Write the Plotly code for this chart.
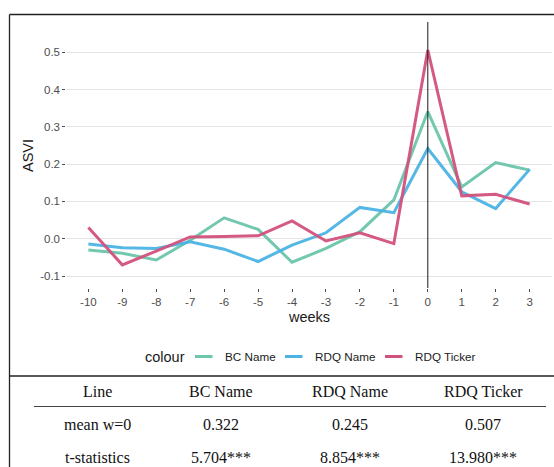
import plotly.graph_objects as go

W, H = 554, 467

# ---------------- data ----------------
weeks = list(range(-10, 4))
bc_name = [-0.030, -0.039, -0.057, -0.004, 0.056, 0.025, -0.063, -0.026, 0.019, 0.104, 0.341, 0.139, 0.204, 0.184]
rdq_name = [-0.014, -0.024, -0.026, -0.008, -0.028, -0.061, -0.017, 0.016, 0.084, 0.070, 0.242, 0.126, 0.081, 0.186]
rdq_ticker = [0.030, -0.070, -0.033, 0.005, 0.006, 0.008, 0.048, -0.006, 0.016, -0.013, 0.506, 0.115, 0.119, 0.093]

series_names = ["BC Name", "RDQ Name", "RDQ Ticker"]
series_colors = ["#6CC7AC", "#4CB4E4", "#D2527E"]
y_ticks = [-0.1, 0.0, 0.1, 0.2, 0.3, 0.4, 0.5]
x_ticks = weeks
event_week = 0

table_header = ["Line", "BC Name", "RDQ Name", "RDQ Ticker"]
table_rows = [
    ["mean w=0", "0.322", "0.245", "0.507"],
    ["t-statistics", "5.704***", "8.854***", "13.980***"],
]

# ---------------- helpers (pixel -> paper) ----------------
def px(x):
    return x / W

def py(y):
    return 1 - y / H

panel_l, panel_r, panel_t, panel_b = 66.3, 551.7, 22, 288

fig = go.Figure()
for name, vals, col in zip(series_names, [bc_name, rdq_name, rdq_ticker], series_colors):
    fig.add_trace(go.Scatter(x=weeks, y=vals, mode="lines", name=name,
                             line=dict(color=col, width=3), opacity=0.95,
                             showlegend=False))

sans = "Liberation Sans, Arial, sans-serif"
serif = "Liberation Serif, Times New Roman, serif"

shapes = []
annots = []

# vertical event line
shapes.append(dict(type="line", xref="x", yref="paper", x0=event_week, x1=event_week,
                   y0=py(panel_b), y1=py(panel_t), line=dict(color="#1a1a1a", width=1),
                   layer="above"))

# axis titles
annots.append(dict(x=px(28), y=py((panel_t + panel_b) / 2), xref="paper", yref="paper",
                   text="ASVI", textangle=-90, showarrow=False,
                   font=dict(family=sans, size=14.5, color="#1a1a1a"),
                   xanchor="center", yanchor="middle"))
annots.append(dict(x=px((panel_l + panel_r) / 2), y=py(316.5), xref="paper", yref="paper",
                   text="weeks", showarrow=False,
                   font=dict(family=sans, size=14.5, color="#1a1a1a"),
                   xanchor="center", yanchor="middle"))

# legend (drawn manually, ggplot style)
leg_y = 356.5
annots.append(dict(x=px(142.5), y=py(leg_y), xref="paper", yref="paper", text="colour",
                   showarrow=False, font=dict(family=sans, size=14.5, color="#1a1a1a"),
                   xanchor="left", yanchor="middle"))
key_starts = [195, 285, 385]
for ks, name, col in zip(key_starts, series_names, series_colors):
    shapes.append(dict(type="line", xref="paper", yref="paper",
                       x0=px(ks), x1=px(ks + 17.5), y0=py(leg_y), y1=py(leg_y),
                       line=dict(color=col, width=3)))
    annots.append(dict(x=px(ks + 27.5), y=py(leg_y), xref="paper", yref="paper", text=name,
                       showarrow=False, font=dict(family=sans, size=11.7, color="#1a1a1a"),
                       xanchor="left", yanchor="middle"))

# outer frame lines
frame = "#222222"
shapes.append(dict(type="line", xref="paper", yref="paper", x0=px(9.5), x1=px(554),
                   y0=py(14.5), y1=py(14.5), line=dict(color=frame, width=1.3)))
shapes.append(dict(type="line", xref="paper", yref="paper", x0=px(9.5), x1=px(9.5),
                   y0=py(14.5), y1=py(467), line=dict(color=frame, width=1.3)))
shapes.append(dict(type="line", xref="paper", yref="paper", x0=px(9.5), x1=px(554),
                   y0=py(376), y1=py(376), line=dict(color=frame, width=1.3)))
# table header underline
shapes.append(dict(type="line", xref="paper", yref="paper", x0=px(34), x1=px(546),
                   y0=py(406.5), y1=py(406.5), line=dict(color="#444444", width=1.2)))

# table text
col_x = [97.5, 221, 350, 483]
row_y = [391.5, 424.5, 457.5]
for cx, txt in zip(col_x, table_header):
    annots.append(dict(x=px(cx), y=py(row_y[0]), xref="paper", yref="paper", text=txt,
                       showarrow=False, font=dict(family=serif, size=16, color="#111111"),
                       xanchor="center", yanchor="middle"))
for ry, row in zip(row_y[1:], table_rows):
    for cx, txt in zip(col_x, row):
        annots.append(dict(x=px(cx), y=py(ry), xref="paper", yref="paper", text=txt,
                           showarrow=False, font=dict(family=serif, size=16, color="#111111"),
                           xanchor="center", yanchor="middle"))

fig.update_layout(
    width=W, height=H,
    margin=dict(l=0, r=0, t=0, b=0),
    paper_bgcolor="white", plot_bgcolor="white",
    xaxis=dict(domain=[px(panel_l), px(panel_r)], range=[-10.65, 3.65],
               tickmode="array", tickvals=x_ticks, ticktext=[str(v) for v in x_ticks],
               ticks="outside", ticklen=3, tickwidth=1, tickcolor="#4D4D4D",
               showgrid=False, zeroline=False, showline=False,
               tickfont=dict(family=sans, size=11.5, color="#4D4D4D")),
    yaxis=dict(domain=[py(panel_b), py(panel_t)], range=[-0.132, 0.581],
               tickmode="array", tickvals=y_ticks, ticktext=[f"{v:.1f}" for v in y_ticks],
               ticks="outside", ticklen=3, tickwidth=1, tickcolor="#4D4D4D",
               showgrid=True, gridcolor="#E4E4E4", gridwidth=1.2,
               zeroline=False, showline=False,
               tickfont=dict(family=sans, size=11.5, color="#4D4D4D")),
    shapes=shapes, annotations=annots,
)
fig.write_html("out.html")
